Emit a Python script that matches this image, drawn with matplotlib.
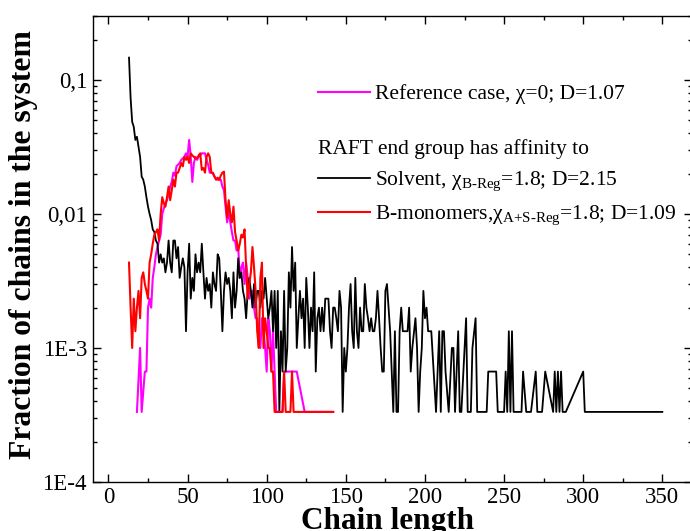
import matplotlib

matplotlib.use("Agg")

import matplotlib.pyplot as plt
import numpy as np
from matplotlib.ticker import FixedLocator, FixedFormatter, LogLocator, MultipleLocator, NullFormatter


N_CHAINS = 3000  # fractions are counts / total number of chains

# Solvent affinity (black): chain length -> number of chains
solvent_x = np.r_[
    np.arange(13, 179),
    [180, 181, 182, 183, 184, 185, 186, 189, 190, 191, 192],
    [194, 195, 196, 197, 198, 199, 200, 201, 202, 203, 204],
    [207, 209, 210, 211, 212, 213, 215, 217, 218, 219, 221],
    [222, 223, 225, 226, 227, 229, 230, 232, 233, 239, 240],
    [245, 246, 250, 251, 252, 253, 254, 255, 256, 261, 262],
    [264, 267, 270, 271, 274, 276, 281, 282, 283, 284, 285],
    [286, 287, 289, 300, 301, 350],
]
solvent_counts = [
    440, 220, 146, 134, 107, 113, 95, 80, 57, 54, 48, 40, 34, 30, 27, 23, 22, 19,
    18, 13, 15, 13, 14, 11, 13, 19, 13, 11, 19, 19, 14, 17, 10, 12, 14,
    12, 4, 11, 18, 7, 10, 8, 15, 11, 13, 11, 18, 11, 7, 10, 8, 9,
    6, 11, 9, 8, 15, 14, 8, 4, 8, 11, 9, 10, 8, 5, 11, 6, 8,
    14, 10, 11, 8, 7, 5, 8, 10, 8, 6, 9, 6, 8, 8, 6, 8, 7,
    10, 7, 5, 6, 8, 4, 8, 3, 8, 1, 4, 2, 8, 2, 3, 11, 6,
    17, 8, 13, 3, 5, 8, 5, 7, 3, 10, 6, 3, 6, 4, 11, 2, 5,
    6, 4, 6, 4, 7, 7, 7, 4, 3, 6, 6, 5, 4, 8, 6, 1, 3,
    2, 3, 6, 9, 4, 3, 10, 4, 3, 6, 4, 4, 9, 6, 5, 4, 5,
    4, 4, 5, 8, 5, 3, 2, 2, 8, 9, 6, 4,
    1, 4, 1, 1, 4, 6, 4, 4, 6, 2, 3,
    5, 3, 1, 2, 3, 8, 5, 6, 4, 4, 4,
    1, 4, 1, 4, 4, 2, 1, 3, 3, 1, 4,
    1, 1, 3, 5, 1, 1, 3, 5, 1, 1, 2,
    2, 1, 1, 2, 1, 4, 1, 4, 1, 1, 2,
    1, 1, 2, 1, 1, 2, 1, 2, 1, 2, 1,
    2, 1, 1, 2, 1, 1,
]

# B-monomer affinity (red)
bmono_x = np.r_[np.arange(13, 118), [142]]
bmono_counts = [
    13, 6, 3, 7, 4, 6, 8, 5, 10, 11, 9, 8, 7, 13, 15, 18, 21, 22, 23, 19,
    30, 40, 36, 34, 40, 48, 38, 45, 54, 48, 61, 61, 66, 72, 68, 80, 76, 80, 72, 85,
    82, 80, 78, 78, 82, 85, 64, 66, 61, 80, 85, 80, 61, 61, 57, 54, 56, 54, 58, 61,
    62, 38, 28, 38, 30, 26, 34, 22, 19, 16, 18, 21, 20, 23, 12, 7, 9, 11, 17, 12,
    8, 4, 3, 10, 13, 3, 5, 4, 3, 3, 2, 2, 1, 1, 1, 1, 1, 1, 2, 1,
    1, 1, 1, 2, 1,
    1,
]

# Reference case (magenta)
ref_x = np.r_[[18, 20, 21], np.arange(23, 120), [124, 142]]
ref_counts = [
    1, 3, 1,
    2, 2, 6, 7, 6, 10, 12, 15, 17, 19, 21, 30, 33, 36, 38, 42, 48, 52, 61, 58, 68, 70,
    72, 76, 78, 80, 85, 80, 107, 80, 52, 72, 80, 76, 80, 82, 85, 85, 85, 76, 70, 61,
    61, 60, 57, 55, 54, 54, 54, 48, 45, 34, 26, 31, 26, 22, 19, 19, 16, 17, 10, 12,
    13, 9, 13, 10, 7, 8, 8, 6, 5, 5, 4, 3, 5, 4, 3, 2, 5, 4, 2, 4,
    2, 1, 1, 1, 1, 1, 2, 2, 2, 2, 2, 2, 2, 2, 2,
    1, 1,
]

ytick_values = [1e-4, 1e-3, 1e-2, 1e-1]
ytick_labels = ["1E-4", "1E-3", "0,01", "0,1"]

label_ref = "Reference case, χ=0; D=1.07"
label_group = "RAFT end group has affinity to"
label_solvent = r"Solvent, χ$_{\text{B-Reg}}$=1.8; D=2.15"
label_bmono = r"B-monomers,χ$_{\text{A+S-Reg}}$=1.8; D=1.09"

plt.rcParams["font.family"] = ["Liberation Serif", "DejaVu Serif"]
plt.rcParams["mathtext.fontset"] = "custom"
plt.rcParams["mathtext.rm"] = "Liberation Serif"
plt.rcParams["mathtext.it"] = "Liberation Serif:italic"
plt.rcParams["mathtext.bf"] = "Liberation Serif:bold"

fig = plt.figure(figsize=(6.9, 5.31), dpi=100)
ax = fig.add_axes([0.1348, 0.0923, 0.868, 0.8776])

ref_line, = ax.plot(ref_x, np.array(ref_counts) / N_CHAINS, color="#ff00ff", lw=1.5, zorder=2)
solv_line, = ax.plot(solvent_x, np.array(solvent_counts) / N_CHAINS, color="black", lw=1.3, zorder=3)
bmono_line, = ax.plot(bmono_x, np.array(bmono_counts) / N_CHAINS, color="red", lw=1.5, zorder=4)

ax.set_yscale("log")
ax.set_xlim(-9.75, 368.7)
ax.set_ylim(1e-4, 0.3)

ax.xaxis.set_major_locator(MultipleLocator(50))
ax.xaxis.set_minor_locator(MultipleLocator(25))
ax.yaxis.set_major_locator(FixedLocator(ytick_values))
ax.yaxis.set_major_formatter(FixedFormatter(ytick_labels))
ax.yaxis.set_minor_locator(LogLocator(base=10, subs=np.arange(2, 10)))
ax.yaxis.set_minor_formatter(NullFormatter())

ax.tick_params(which="both", direction="in", top=True, right=True, width=1.0, labelsize=16.5)
ax.tick_params(which="major", length=5.8)
ax.tick_params(which="minor", length=2.9)
ax.tick_params(axis="x", pad=3.6)
ax.tick_params(axis="y", pad=4.3)
for spine in ax.spines.values():
    spine.set_linewidth(1.0)

ax.set_xlabel("Chain length", fontsize=22.5, fontweight="bold")
ax.xaxis.set_label_coords(0.491, -0.054)
ax.set_ylabel("Fraction of chains in the system", fontsize=22.8, fontweight="bold")
ax.yaxis.set_label_coords(-0.0916, 0.51)

leg1 = ax.legend([ref_line], [label_ref], loc="upper left", bbox_to_anchor=(0.376, 0.854),
                 frameon=False, fontsize=15.5, handlelength=2.4, handletextpad=0.23,
                 borderpad=0, borderaxespad=0)
ax.add_artist(leg1)
ax.legend([solv_line, bmono_line], [label_solvent, label_bmono], title=label_group,
          title_fontsize=15.5, alignment="left", loc="upper left", bbox_to_anchor=(0.376, 0.736),
          frameon=False, fontsize=15.5, handlelength=2.4, handletextpad=0.23,
          labelspacing=0.5, borderpad=0, borderaxespad=0)

fig.savefig("out.png", dpi=100)
